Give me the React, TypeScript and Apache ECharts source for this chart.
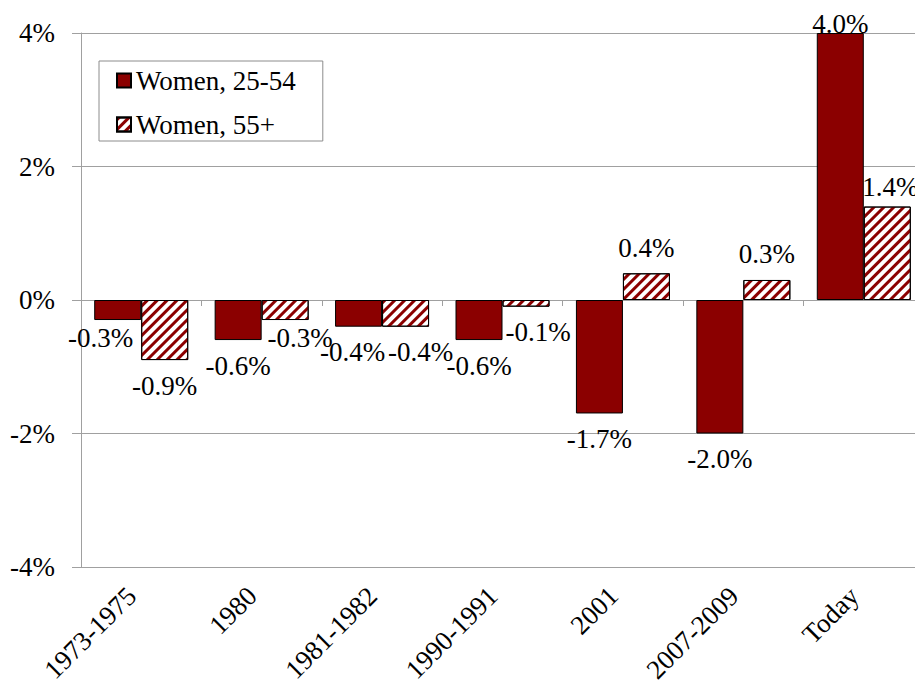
import React, { useEffect, useRef } from "react";
import * as echarts from "echarts";

const categories = ["1973-1975", "1980", "1981-1982", "1990-1991", "2001", "2007-2009", "Today"];
const women2554 = [-0.3, -0.6, -0.4, -0.6, -1.7, -2.0, 4.0];
const women55 = [-0.9, -0.3, -0.4, -0.1, 0.4, 0.3, 1.4];
const seriesNames = ["Women, 25-54", "Women, 55+"];
const yTicks = { min: -4, max: 4, interval: 2 };

// label nudges (x, y) in px, mirroring the manually placed labels of the original
const nudgeA = [[-17, -8], [0, 0], [-6, 0], [0, 0], [0, 0], [0, 0], [0, 16]];
const nudgeB = [[0, 0], [15, -8], [15, 0], [12, 0], [0, 0], [0, 0], [3, 6]];

const FONT = "Liberation Serif";
const DARK = "#8B0000";
const GRID = "#a0a0a0";

export default function App() {
  const ref = useRef<HTMLDivElement>(null);

  useEffect(() => {
    if (!ref.current) return;
    const chart = echarts.init(ref.current, undefined, { renderer: "svg" });

    const txt = { fontFamily: FONT, fontSize: 27, color: "#000" };

    const labelBase = {
      show: true,
      position: "outside",
      distance: 12,
      ...txt,
      formatter: (p: any) => `${Number(p.value).toFixed(1)}%`,
    };

    const mk = (vals: number[], nudges: number[][]) =>
      vals.map((v, i) => ({
        value: v,
        label: { offset: nudges[i], ...txt },
      }));

    const hatch = {
      symbol: "rect",
      symbolSize: 1,
      color: DARK,
      dashArrayX: [1, 0],
      dashArrayY: [3, 4],
      rotation: -Math.PI / 4,
    };

    chart.setOption({
      animation: false,
      backgroundColor: "#fff",
      textStyle: { fontFamily: FONT },
      grid: {
        left: 81,
        right: -9,
        top: 33,
        bottom: 121,
        containLabel: false,
        outerBoundsMode: "none",
      },
      legend: {
        show: true,
        orient: "vertical",
        left: 99,
        top: 61,
        padding: [6, 27, 3, 17],
        itemGap: 17,
        itemWidth: 14,
        itemHeight: 14,
        icon: "rect",
        backgroundColor: "#fff",
        borderColor: "#8c8c8c",
        borderWidth: 1,
        borderRadius: 0,
        textStyle: { ...txt },
        data: seriesNames,
      },
      xAxis: [
        {
          type: "category",
          data: categories,
          position: "bottom",
          axisLine: { show: false, onZero: false },
          axisTick: { show: false },
          axisLabel: {
            interval: 0,
            rotate: 45,
            margin: 34,
            verticalAlign: "bottom",
            ...txt,
          },
          splitLine: { show: false },
        },
        {
          type: "category",
          data: categories,
          position: "top",
          axisLine: { show: true, onZero: true, lineStyle: { color: GRID, width: 1 } },
          axisTick: { show: true, inside: true, length: 6, lineStyle: { color: GRID } },
          axisLabel: { show: false },
          splitLine: { show: false },
        },
      ],
      yAxis: {
        type: "value",
        min: yTicks.min,
        max: yTicks.max,
        interval: yTicks.interval,
        axisLine: { show: true, lineStyle: { color: GRID, width: 1 } },
        axisTick: { show: true, length: 9, lineStyle: { color: GRID } },
        axisLabel: {
          margin: 26,
          ...txt,
          formatter: (v: number) => `${v}%`,
        },
        splitLine: { show: true, lineStyle: { color: GRID, width: 1 } },
      },
      series: [
        {
          name: seriesNames[0],
          type: "bar",
          xAxisIndex: 0,
          data: mk(women2554, nudgeA),
          barWidth: 47,
          barGap: "0%",
          itemStyle: { color: DARK, borderColor: "#000", borderWidth: 1 },
          label: labelBase,
          z: 3,
        },
        {
          name: seriesNames[1],
          type: "bar",
          xAxisIndex: 0,
          data: mk(women55, nudgeB),
          barWidth: 47,
          barGap: "0%",
          itemStyle: { color: "#fff", borderColor: "#000", borderWidth: 1, decal: hatch },
          label: labelBase,
          z: 3,
        },
      ],
    });

    return () => chart.dispose();
  }, []);

  return (
    <div
      ref={ref}
      style={{ position: "fixed", left: 0, top: 0, width: 915, height: 688 }}
    />
  );
}
